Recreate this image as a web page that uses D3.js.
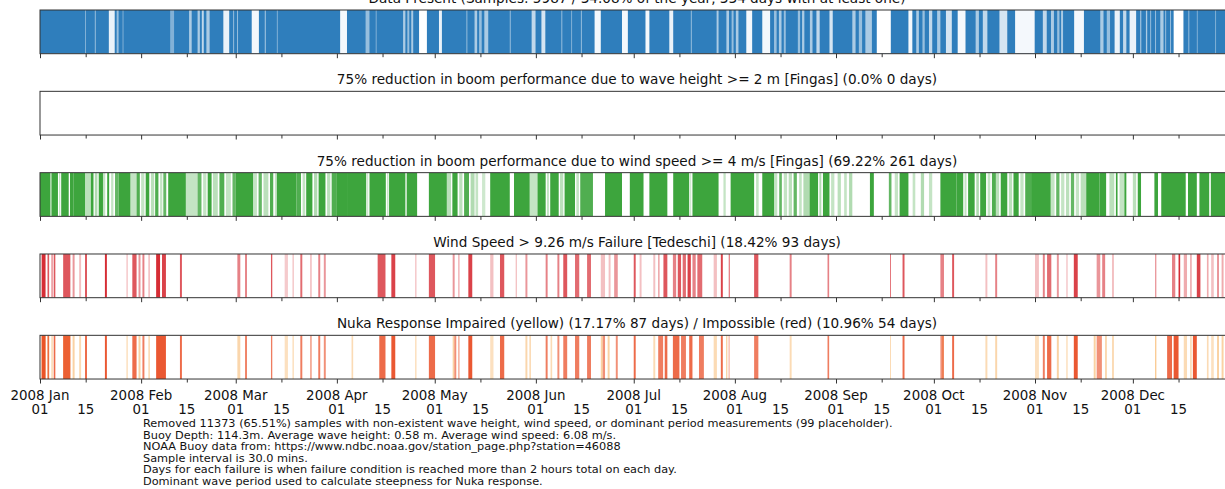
<!DOCTYPE html>
<html>
<head>
<meta charset="utf-8">
<script src="https://cdn.jsdelivr.net/npm/d3@7"></script>
<style>
body { margin: 0; background: #fff; }
svg { display: block; font-family: "DejaVu Sans", sans-serif; }
</style>
</head>
<body>
<svg id="chart" width="1225" height="489"></svg>
<script>
// all positions in days since 2008 Jan 01: [start, end, opacity]

var panelTitles = [
	"Data Present (Samples: 5987 / 34.08% of the year, 334 days with at least one)",
	"75% reduction in boom performance due to wave height >= 2 m [Fingas] (0.0% 0 days)",
	"75% reduction in boom performance due to wind speed >= 4 m/s [Fingas] (69.22% 261 days)",
	"Wind Speed > 9.26 m/s Failure [Tedeschi] (18.42% 93 days)",
	"Nuka Response Impaired (yellow) (17.17% 87 days) / Impossible (red) (10.96% 54 days)"
];

// gaps in the data present strip (opacity = how empty)
var dataGaps = [
	[13.8,14.1,.4],[16.8,17.1,.5],[21.1,22.9,.9],[23.5,24.1,.5],[25.3,25.6,.4],[39.9,41.1,.4],
	[45.7,46.5,.6],[48.3,49.0,.6],[49.6,50.2,.7],[51,52,.6],[56.2,58,.9],[59.2,59.5,.5],
	[60.4,60.7,.5],[64.9,67.1,.95],[68.9,69.2,.6],[72.6,72.9,.4],[92,94.1,.95],[99.8,101,.5],
	[102.9,103.2,.4],[111.3,112,.6],[112.6,113.2,.5],[113.8,114.4,.6],[116.2,118.6,1],[122.3,123.2,.9],
	[130.7,131,.5],[133.2,134,.6],[134.6,135.4,.5],[136.2,137.4,.6],[144,144.3,.5],[150.7,151.9,.7],
	[153.7,154.9,.8],[159.8,160.1,.5],[162.8,163.1,.4],[165.8,166.1,.5],[170,171.9,.95],
	[178.4,180.2,.95],[185.6,186.8,.95],[192.9,194.1,.9],[199.5,199.8,.5],[207.4,208,.6],
	[210.4,211.2,.6],[212,212.6,.5],[213.3,214.1,.6],[216.5,218.3,.95],[221.4,223.8,.95],
	[225,225.8,.5],[226.5,227.3,.6],[228,228.6,.5],[232.3,233,.5],[233.6,234.3,.6],[236,236.8,.6],
	[238,239,.7],[242,243,.8],[249,250,.6],[251,252,.5],[253,255,.6],[256.5,260.8,1],
	[266.2,267.4,.95],[268.6,269.4,.6],[270.5,271.2,.5],[272.5,273.5,.7],[275,276,.6],
	[277.7,279.5,.8],[281.3,283.7,.95],[286.8,287.8,.6],[289,290.4,.7],[294.1,296.5,.8],
	[298.9,304.9,.95],[307.4,308.6,.7],[309.9,310.8,.6],[311.8,312.5,.5],[313,313.6,.6],
	[317,320,.95],[325,326,.6],[327,328,.5],[329.4,331,.9],[332,333,.7],[334,336,.9],
	[337.2,337.6,.5],[339,339.4,.6],[340.3,340.6,.5],[341.8,342.1,.5],[343.4,344.4,.6],
	[344.9,345.2,.5],[346.4,346.7,.5],[347.5,350.5,1],[352,352.3,.5],[354.6,354.9,.4],
	[360.2,360.5,.4],[363.3,363.6,.4]
];

var waveFailures = [];

var windFailures = [
	[0,3.2,1],[3.5,5.5,1],[5.9,6.2,.4],[6.5,8.8,1],[9.2,10.2,1],[10.2,13.8,1],[13.8,15.6,.35],
	[15.6,16.4,1],[16.8,17.6,.4],[18,19.3,1],[19.3,20,.3],[20.6,21.2,1],[21.8,22.5,.3],[23,24.1,.8],
	[24.1,27.7,1],[27.7,29.6,.3],[29.6,30.6,.9],[31,32,.3],[32.4,33.5,1],[34,35,.35],[35.3,36.3,.9],
	[36.8,37.5,.3],[37.8,38.7,.8],[39.3,44.7,1],[44.7,48.3,.3],[48.3,49.5,.8],[50,51,.3],
	[51.4,52.6,1],[53,54.5,.35],[55,56.5,.9],[57,58.5,.3],[59,59.9,.8],[59.9,65.3,1],
	[65.3,66.5,.3],[67,68,.8],[68.5,70,.35],[70.5,71.5,.9],[72,72.6,.3],[72.6,78.6,1],
	[78.6,80,.9],[80.5,81.3,.3],[81.6,83.5,1],[84,85,.4],[85.4,87.5,1],[88,89,.35],[89.4,90.8,.9],
	[90.8,94.4,1],[94.4,100,1],[100.3,100.6,.3],[101,106,1],[106.4,106.8,.3],[107,112,1],
	[112.4,115.6,1],[119.2,124.7,1],[124.7,126,.35],[126.4,128,1],[128.5,129.5,.35],[130,131.5,.9],
	[132,133.2,.4],[133.5,134.3,.3],[135.5,136.5,.25],[138,144,1],[145.3,150.1,1],[150.1,152.5,.3],
	[152.5,155,1],[155.4,156,.3],[156.4,159,1],[159.4,160.4,.35],[160.8,164,1],[164.4,165.2,.3],
	[165.6,169.5,.9],[173.2,178.4,1],[180.8,185,1],[186.8,192.3,1],[194.1,199,1],[199.3,199.6,.3],
	[200,208,1],[209.5,210.2,.3],[211.7,218.9,1],[219.5,220.3,.3],[221.4,225,1],[225,226,.3],
	[226.6,227.4,.8],[228,229,.3],[229.5,230.5,.35],[231,232,.8],[232.7,233.5,.3],[234,235.9,.4],
	[235.9,238.5,1],[238.9,239.5,.4],[240,242,1],[242.5,243.5,.3],[244.5,245.5,.35],[246.5,247.3,.3],
	[248,249,.4],[254.4,255.6,1],[260.2,261,.8],[262,263,.3],[263.5,266.2,1],[267.5,268.3,.3],
	[270,271,.4],[272.5,273.5,.3],[276,280.9,1],[280.9,283,1],[283.4,284,.3],[284.5,286.5,1],
	[287,287.8,.4],[288.2,290,1],[290.5,291.3,.3],[291.8,293,.9],[293,294,.35],[294.5,296.5,1],
	[297,298,.35],[298.4,300,1],[300.5,301.5,.3],[302,303.8,.9],[303.8,309.8,1],[309.8,311,.3],
	[311.5,312.5,.8],[313,314,.3],[314.5,315.5,.35],[316,317,.8],[317.5,318.5,.3],[319,320.7,.35],
	[320.7,324.8,1],[324.8,326.8,1],[327.8,329.3,.35],[329.8,330.3,1],[330.9,332.4,.3],[332.4,333,1],
	[335,336,.35],[336.5,337.5,1],[341.6,342.7,1],[343.7,351.2,1],[351.9,354.6,1],[355.4,358.4,1],
	[358.9,366,1]
];

var tedeschiFailures = [
	[0.5,1.7,1],[2.3,2.8,.8],[3.5,3.9,.6],[4.2,4.7,.8],[7.1,9.3,.8],[10,10.6,.5],[12,12.6,.3],
	[13.8,14.4,.8],[19.9,20.5,1],[26.5,26.9,.3],[28.3,29.6,.8],[30.2,30.8,.5],[31.4,32,.6],
	[33.2,33.7,.3],[35.6,36.8,1],[37.4,38.6,.9],[42.9,43.5,.8],[60.5,61.4,.6],[62.9,63.4,.7],
	[70.8,71.2,.8],[75,76,.25],[77.4,77.8,.3],[79.8,80.4,.7],[82.8,83.3,.3],[85.3,85.9,.6],
	[87,87.6,.5],[103.5,105.9,.8],[107.7,108.9,.9],[115,115.4,.3],[119.2,121.1,.8],[126.5,127.1,.5],
	[128.2,128.6,.4],[131.3,132.5,.9],[138,139,.3],[141,142.3,.8],[145.8,146.2,.3],[148.8,149.4,.5],
	[155,155.6,.6],[158.6,159.2,.6],[160.4,161.6,.8],[164,165.3,.7],[167.7,168.9,.7],[171.9,173.2,.3],
	[174.3,174.9,.3],[176,177.1,.5],[182,182.6,.8],[183.8,184.4,.3],[188,188.6,.3],[189.5,189.9,.5],
	[191.1,192.3,.8],[194,195,.6],[195.5,196.5,.8],[197,198,.7],[198.5,199.5,.9],[200,201,.6],
	[201.5,203,.7],[206.5,207.5,.3],[208.7,209.3,.9],[211.1,211.5,.6],[218.9,220.2,.8],
	[229.8,230.4,.6],[241.4,241.9,.6],[260.6,260.8,.8],[264.4,265,.8],[276,277.1,.6],
	[279.6,280.2,.8],[289.8,290.4,.3],[292.8,293.4,.6],[305,306.2,.3],[307.4,308,.6],
	[308.7,310,.7],[311.7,312.3,.5],[314.6,315,.3],[316.9,318.1,.9],[323.9,325,.5],
	[325.6,326.5,.6],[328.6,329.2,.3],[341.8,342.2,.5],[347,348,.6],[349,349.5,1],
	[350.6,351.6,.4],[352.6,353,.5],[354.6,355.7,.9],[357.7,358.2,.4],[359,359.8,.3],
	[360.8,361.4,.5],[362.2,362.8,.4]
];

var nukaImpaired = [
	[0.5,1.7,.6],[2.3,2.8,.6],[3.5,3.9,.5],[7.1,9.3,.6],[10,10.6,.5],[12,12.6,.4],[26.5,26.9,.4],
	[30.2,30.8,.5],[33.2,33.7,.4],[60.5,61.4,.45],[75,76,.35],[77.4,77.8,.4],[95.5,96,.4],
	[115,115.4,.4],[126.5,127,.5],[138,139,.35],[148.8,149.4,.45],[150,150.5,.4],[156.5,157,.4],
	[171.9,172.5,.5],[174,174.6,.5],[188,188.6,.4],[206.5,207.5,.4],[210.3,210.7,.5],
	[229.8,230.4,.4],[260.6,260.8,.5],[276.5,277,.5],[289.8,290.4,.4],[292.8,293.4,.45],
	[305,306.2,.35],[311.7,312.3,.5],[314.6,315,.4],[323,323.6,.5],[326.5,327,.5],
	[328.6,329.2,.4],[341.8,342.2,.6],[350.6,351.6,.4],[352.6,353,.5],[357.7,358.2,.4],
	[359,359.8,.35],[360.8,361.4,.5],[362.2,362.8,.5]
];

var nukaImpossible = [
	[0.5,1.7,.9],[2.3,2.8,.7],[4.2,4.7,.8],[7.1,9.3,.8],[13.8,14.4,.8],[19.9,20.5,.9],
	[28.3,29.6,.8],[31.4,32,.7],[35.6,38.6,.9],[42.9,43.5,.8],[62.9,63.4,.8],[70.8,71.2,.7],
	[79.8,80.4,.7],[82.8,83.3,.5],[85.3,85.9,.7],[87,87.6,.6],[104,105.9,.8],[107.7,108.9,.9],
	[119.2,121.1,.8],[127,127.6,.6],[128.2,128.6,.5],[131.3,132.5,.9],[141,142.3,.8],
	[155,155.6,.7],[158.6,159.2,.6],[160.4,161.6,.7],[164,165.3,.7],[167.7,168.9,.7],
	[172.5,173.2,.6],[176.5,177.1,.6],[182,182.6,.8],[189.5,191,.7],[191.5,192.3,.8],
	[194,196,.8],[196.5,198,.7],[199,200,.8],[202,203.5,.7],[208.7,209.3,.8],[211.1,211.3,.6],
	[218.9,220.2,.7],[241.4,241.9,.7],[264.4,265,.8],[276,277.1,.6],[279.6,280.2,.8],
	[307.4,308,.7],[308.7,310,.8],[316.9,318.1,.9],[323.9,325.5,.6],[345.5,347,.8],
	[347.5,349,.9],[353.4,354.6,.9]
];

var footnotes = [
	"Removed 11373 (65.51%) samples with non-existent wave height, wind speed, or dominant period measurements (99 placeholder).",
	"Buoy Depth: 114.3m. Average wave height: 0.58 m. Average wind speed: 6.08 m/s.",
	"NOAA Buoy data from: https://www.ndbc.noaa.gov/station_page.php?station=46088",
	"Sample interval is 30.0 mins.",
	"Days for each failure is when failure condition is reached more than 2 hours total on each day.",
	"Dominant wave period used to calculate steepness for Nuka response."
];

// strips: events, colour, empty background or filled
var panels = [
	{events: dataGaps, color: "#2f7ebc", gaps: true},
	{events: waveFailures, color: "#ff7f0e"},
	{events: windFailures, color: "#3da53d"},
	{events: tedeschiFailures, color: "#d62d35"},
	{events: nukaImpaired, color: "#f5a547", extra: nukaImpossible, extraColor: "#e8461c"}
];

var svg = d3.select("#chart");
var left = 40, right = 1234, top0 = 10, step = 81.33, h = 43.7;

var start = new Date(Date.UTC(2008, 0, 1));
var end = new Date(Date.UTC(2009, 0, 1));
var x = d3.scaleUtc().domain([start, end]).range([left, right]);
var day = function(d) { return new Date(start.getTime() + d * 864e5); };

var monthTicks = d3.utcMonth.range(start, end);
var midTicks = monthTicks.map(function(m) { return d3.utcDay.offset(m, 14); });

function stripes(sel, data, cls, fill) {
	sel.selectAll("rect." + cls).data(data).enter().append("rect")
		.attr("class", cls)
		.attr("x", function(d) { return x(day(d[0])); })
		.attr("y", 0)
		.attr("width", function(d) { return Math.max(0.8, x(day(d[1])) - x(day(d[0]))); })
		.attr("height", h)
		.attr("fill", fill)
		.attr("opacity", function(d) { return d[2]; });
}

panels.forEach(function(p, i) {
	var top = top0 + i * step;
	var g = svg.append("g").attr("transform", "translate(0," + top + ")");

	var clip = "clip" + i;
	g.append("clipPath").attr("id", clip)
		.append("rect").attr("x", left).attr("y", 0).attr("width", right - left).attr("height", h);

	var marks = g.append("g").attr("clip-path", "url(#" + clip + ")");

	if (p.gaps) {
		// whole year present, gaps knocked out in white
		marks.append("rect")
			.attr("x", x(start)).attr("y", 0)
			.attr("width", x(end) - x(start)).attr("height", h)
			.attr("fill", p.color);
		stripes(marks, p.events, "gap", "#fff");
	} else {
		stripes(marks, p.events, "ev", p.color);
	}
	if (p.extra) {
		stripes(marks, p.extra, "ex", p.extraColor);
	}

	g.append("rect")
		.attr("x", left).attr("y", 0)
		.attr("width", right - left).attr("height", h)
		.attr("fill", "none").attr("stroke", "#333").attr("stroke-width", 1);

	// ticks on the bottom of every strip
	var axisMajor = d3.axisBottom(x).tickValues(monthTicks).tickSize(4.5).tickSizeOuter(0).tickFormat("");
	var axisMinor = d3.axisBottom(x).tickValues(midTicks).tickSize(3.5).tickSizeOuter(0).tickFormat("");
	var ga = g.append("g").attr("transform", "translate(0," + h + ")").call(axisMajor);
	var gm = g.append("g").attr("transform", "translate(0," + h + ")").call(axisMinor);
	[ga, gm].forEach(function(a) {
		a.select(".domain").remove();
		a.selectAll(".tick line").attr("stroke", "#333").attr("stroke-width", 1);
	});

	g.append("text")
		.attr("x", (left + right) / 2)
		.attr("y", -7)
		.attr("text-anchor", "middle")
		.attr("font-size", 13.6)
		.attr("fill", "#111")
		.text(panelTitles[i]);

	if (i == panels.length - 1) {
		var lab = g.append("g").attr("font-size", 13.4).attr("fill", "#111").attr("text-anchor", "middle");
		monthTicks.forEach(function(m) {
			lab.append("text").attr("x", x(m)).attr("y", h + 21).text(d3.utcFormat("%Y %b")(m));
			lab.append("text").attr("x", x(m)).attr("y", h + 34.5).text("01");
		});
		midTicks.forEach(function(m) {
			lab.append("text").attr("x", x(m)).attr("y", h + 34.5).text("15");
		});
	}
});

svg.append("g").attr("font-size", 11.3).attr("fill", "#111")
	.selectAll("text").data(footnotes).enter().append("text")
	.attr("x", 143)
	.attr("y", function(d, i) { return 427 + i * 11.6; })
	.text(function(d) { return d; });
</script>
</body>
</html>
